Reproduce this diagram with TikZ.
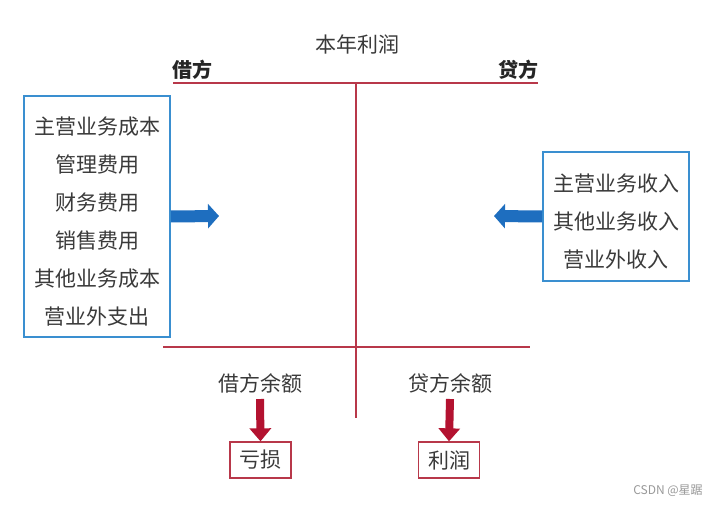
\documentclass[tikz,border=0pt]{standalone}
\usepackage{fontspec}
\setmainfont{Noto Sans CJK SC}
\usetikzlibrary{positioning,arrows.meta}
\definecolor{tline}{HTML}{B8384A}
\definecolor{bbox}{HTML}{3A8FD0}
\definecolor{barrow}{HTML}{1E6EBF}
\definecolor{rarrow}{HTML}{B31230}
\definecolor{txt}{HTML}{3A3A3A}
\newcommand{\firstrow}{\rule{0pt}{28pt}}

\begin{document}
\begin{tikzpicture}[
  x=1pt,y=-1pt,
  item/.style={
    font=\fontsize{21}{21}\selectfont,
    text=txt,
    inner sep=0pt
  },
  itembox/.style={
    draw=bbox,
    line width=1.6pt,
    fill=white,
    align=center,
    font=\fontsize{21}{38}\selectfont,
    text=txt,
    inner sep=0pt
  },
  result/.style={
    draw=tline,
    line width=1.3pt,
    fill=white,
    minimum width=61,
    minimum height=36,
    font=\fontsize{21}{21}\selectfont,
    text=txt,
    inner sep=0pt
  },
  tline/.style={draw=tline,line width=1.4pt},
  bluearrow/.style={draw=barrow,line width=12pt,-{Triangle[width=24pt,length=11pt]}},
  redarrow/.style={draw=rarrow,line width=8pt,-{Triangle[width=21pt,length=13pt]}}
]
  \fill[white] (0,0) rectangle (714,505);

  \node[item] (title) at (357,44) {本年利润};
  \node[item,font=\fontsize{20}{20}\selectfont\bfseries,text=black!85] (debit) at (192,70) {借方};
  \node[item,font=\fontsize{20}{20}\selectfont\bfseries,text=black!85] (credit) at (518,70) {贷方};

  \coordinate (tl) at (173,83);
  \coordinate (tr) at (538,83);
  \coordinate (top) at (356,83);
  \coordinate (bot) at (356,418);
  \coordinate (bl) at (163,347);
  \coordinate (br) at (530,347);

  \draw[tline] (tl) -- (tr);
  \draw[tline] (top) -- (bot);
  \draw[tline] (bl) -- (br);

  \node[itembox,minimum width=146,minimum height=241] (costs) at (97,216.5)
    {\firstrow 主营业务成本\\管理费用\\财务费用\\销售费用\\其他业务成本\\营业外支出};
  \node[itembox,minimum width=146,minimum height=129] (income) at (616,216.5)
    {\firstrow 主营业务收入\\其他业务收入\\营业外收入};

  \coordinate (lhead) at (219,216);
  \coordinate (rhead) at (494,216);
  \draw[bluearrow] (costs.east) -- (lhead);
  \draw[bluearrow] (income.west) -- (rhead);

  \node[item] (dbal) at (260,383) {借方余额};
  \node[item] (cbal) at (450,383) {贷方余额};

  \node[result] (loss) at (260.5,460) {亏损};
  \node[result] (profit) at (449,460) {利润};

  \draw[redarrow] (dbal.south) ++(0,6) -- (loss.north);
  \draw[redarrow] (cbal.south) ++(0,6) -- (profit.north);

  \node[item,font=\fontsize{12}{12}\selectfont,text=black!40] (mark) at (668,491) {CSDN @星踞};
\end{tikzpicture}
\end{document}
